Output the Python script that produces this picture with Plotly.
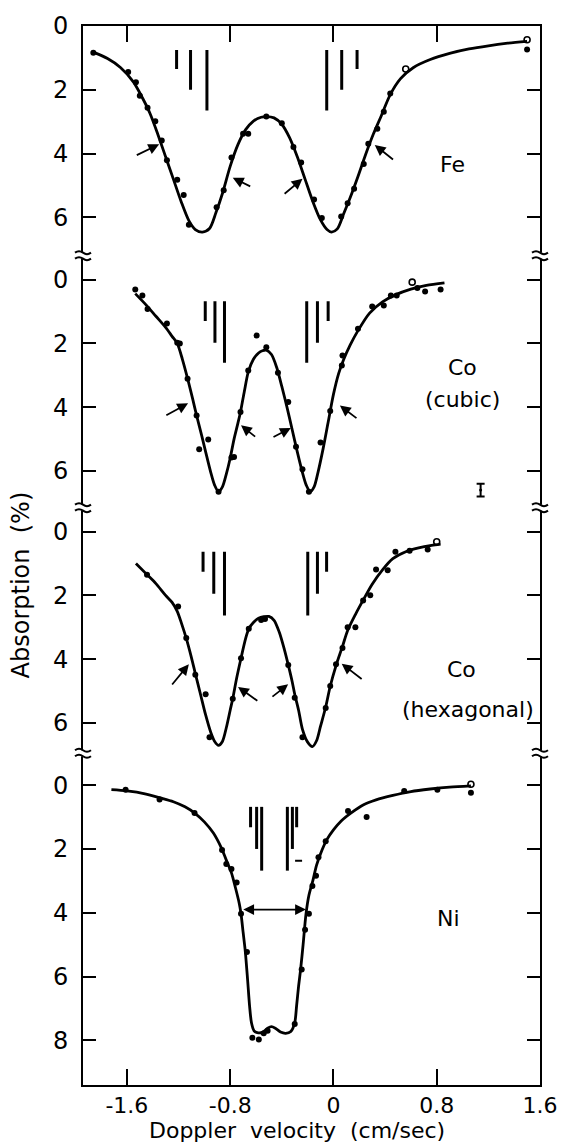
import plotly.graph_objects as go

# ---------------- data ----------------
X_RANGE = [-1.94, 1.6]
X_TICKS = [-1.6, -0.8, 0, 0.8, 1.6]
X_TICKTEXT = ["-1.6", "-0.8", "0", "0.8", "1.6"]

# panel y ranges (absorption %)
FE_RANGE = [0.0, 7.2]
CUB_RANGE = [-0.75, 7.15]
HEX_RANGE = [-0.75, 6.95]
NI_RANGE = [-1.0, 9.4]

# ---- Fe ----
fe_fit_x = [-1.86, -1.75, -1.65, -1.55, -1.48, -1.42, -1.36, -1.30, -1.24, -1.18, -1.12, -1.07, -1.015,
            -0.96, -0.91, -0.86, -0.80, -0.74, -0.68, -0.62, -0.56, -0.52, -0.46, -0.40, -0.34, -0.28,
            -0.22, -0.16, -0.10, -0.05, -0.014, 0.03, 0.08, 0.13, 0.19, 0.25, 0.31, 0.37, 0.44, 0.52,
            0.62, 0.75, 0.90, 1.05, 1.20, 1.35, 1.50]
fe_fit_y = [0.82, 1.02, 1.30, 1.75, 2.25, 2.75, 3.40, 4.10, 4.80, 5.50, 6.10, 6.38, 6.46,
            6.35, 5.85, 5.25, 4.40, 3.72, 3.25, 2.98, 2.86, 2.84, 2.88, 3.08, 3.50, 4.10,
            4.80, 5.50, 6.08, 6.38, 6.46, 6.36, 5.88, 5.38, 4.72, 4.02, 3.38, 2.82, 2.15, 1.65,
            1.30, 1.05, 0.86, 0.72, 0.62, 0.54, 0.48]
fe_dot_x = [-1.86, -1.59, -1.53, -1.50, -1.44, -1.38, -1.33, -1.29, -1.21, -1.16, -1.12, -0.905, -0.85,
            -0.79, -0.70, -0.66, -0.52, -0.40, -0.31, -0.25, -0.15, -0.09, 0.06, 0.11, 0.16, 0.235,
            0.27, 0.34, 0.39, 0.44, 1.50]
fe_dot_y = [0.84, 1.44, 1.76, 2.19, 2.56, 2.99, 3.59, 4.21, 4.82, 5.30, 6.23, 5.68, 5.15,
            4.12, 3.38, 3.38, 2.84, 3.05, 3.79, 4.28, 5.44, 6.02, 5.97, 5.56, 5.10, 4.33,
            3.69, 3.22, 2.69, 2.12, 0.74]
fe_open_x = [0.56, 1.50]
fe_open_y = [1.35, 0.43]
fe_stick_x = [-1.215, -1.107, -0.98, -0.052, 0.064, 0.183]
fe_stick_top = [0.75, 0.75, 0.75, 0.75, 0.75, 0.75]
fe_stick_end = [1.35, 2.0, 2.65, 2.65, 2.0, 1.35]
fe_arrow_tail_x = [-1.535, -0.633, -0.39, 0.473]
fe_arrow_tail_y = [4.07, 5.05, 5.30, 4.22]
fe_arrow_head_x = [-1.35, -0.78, -0.24, 0.32]
fe_arrow_head_y = [3.71, 4.76, 4.79, 3.73]

# ---- Co (cubic) ----
cub_fit_x = [-1.535, -1.45, -1.375, -1.30, -1.25, -1.21, -1.17, -1.13, -1.09, -1.06, -1.02, -0.99, -0.95,
             -0.92, -0.89, -0.86, -0.83, -0.80, -0.77, -0.74, -0.72, -0.69, -0.66, -0.62, -0.58, -0.55,
             -0.52, -0.48, -0.44, -0.40, -0.36, -0.32, -0.28, -0.24, -0.21, -0.18, -0.15, -0.12, -0.08,
             -0.04, 0.0, 0.04, 0.08, 0.13, 0.19, 0.28, 0.38, 0.48, 0.60, 0.72, 0.86]
cub_fit_y = [0.44, 0.80, 1.15, 1.50, 1.78, 2.0, 2.5, 3.1, 3.75, 4.26, 4.9, 5.4, 6.05,
             6.45, 6.65, 6.5, 6.1, 5.6, 5.0, 4.5, 4.15, 3.5, 2.9, 2.5, 2.3, 2.23,
             2.21, 2.35, 2.75, 3.35, 4.0, 4.7, 5.4, 6.05, 6.45, 6.65, 6.5, 6.05, 5.3,
             4.45, 3.6, 2.95, 2.5, 2.05, 1.6, 1.05, 0.70, 0.48, 0.30, 0.18, 0.10]
cub_dot_x = [-1.535, -1.48, -1.44, -1.29, -1.21, -1.19, -1.13, -1.06, -0.97, -1.04, -0.89, -0.79, -0.77,
             -0.72, -0.66, -0.595, -0.52, -0.43, -0.35, -0.29, -0.24, -0.19, -0.10, -0.025, 0.065,
             0.07, 0.19, 0.30, 0.39, 0.445, 0.49, 0.65, 0.71, 0.83]
cub_dot_y = [0.31, 0.50, 0.92, 1.38, 1.98, 2.0, 3.11, 4.26, 5.01, 5.32, 6.65, 5.58, 5.56,
             4.15, 2.85, 1.75, 2.12, 2.92, 3.84, 5.24, 5.95, 6.65, 5.11, 4.12, 2.69,
             2.38, 1.54, 0.84, 0.81, 0.50, 0.50, 0.26, 0.37, 0.31]
cub_open_x = [0.61]
cub_open_y = [0.08]
cub_stick_x = [-0.993, -0.918, -0.844, -0.207, -0.124, -0.041]
cub_stick_top = [0.68, 0.68, 0.68, 0.68, 0.68, 0.68]
cub_stick_end = [1.3, 1.98, 2.61, 2.61, 1.98, 1.3]
cub_arrow_tail_x = [-1.306, -0.595, -0.476, 0.19]
cub_arrow_tail_y = [4.28, 4.96, 4.96, 4.38]
cub_arrow_head_x = [-1.126, -0.716, -0.33, 0.05]
cub_arrow_head_y = [3.88, 4.57, 4.65, 3.95]
err_x = [1.14]
err_y = [6.6]
err_half = [0.2]

# ---- Co (hexagonal) ----
hex_fit_x = [-1.53, -1.444, -1.375, -1.30, -1.25, -1.21, -1.175, -1.14, -1.10, -1.07, -1.03, -0.99, -0.95,
             -0.92, -0.89, -0.86, -0.83, -0.80, -0.78, -0.75, -0.716, -0.68, -0.656, -0.62, -0.58, -0.54,
             -0.50, -0.46, -0.42, -0.38, -0.35, -0.32, -0.30, -0.27, -0.24, -0.20, -0.163, -0.13, -0.10,
             -0.06, -0.025, 0.02, 0.07, 0.11, 0.17, 0.23, 0.30, 0.38, 0.46, 0.56, 0.66, 0.76, 0.83]
hex_fit_y = [1.0, 1.35, 1.63, 2.0, 2.22, 2.5, 2.9, 3.35, 3.95, 4.45, 5.1, 5.75, 6.3,
             6.58, 6.7, 6.58, 6.15, 5.6, 5.24, 4.6, 3.97, 3.35, 3.05, 2.85, 2.72, 2.67,
             2.66, 2.78, 3.15, 3.7, 4.18, 4.7, 5.1, 5.6, 6.2, 6.6, 6.74, 6.55, 6.1,
             5.5, 4.85, 4.2, 3.6, 3.1, 2.6, 2.15, 1.65, 1.2, 0.85, 0.63, 0.51, 0.43, 0.39]
hex_dot_x = [-1.444, -1.203, -1.14, -1.07, -0.99, -0.96, -0.78, -0.716, -0.656, -0.56, -0.53, -0.35,
             -0.30, -0.24, -0.06, -0.025, 0.02, 0.07, 0.11, 0.17, 0.23, 0.285, 0.33, 0.42, 0.48,
             0.59, 0.73]
hex_dot_y = [1.35, 2.35, 3.34, 4.49, 5.1, 6.45, 5.24, 3.97, 3.05, 2.77, 2.74, 4.18,
             5.21, 6.45, 5.53, 4.84, 4.16, 3.65, 3.0, 3.0, 2.16, 2.0, 1.19, 1.21, 0.63,
             0.60, 0.56]
hex_open_x = [0.80]
hex_open_y = [0.32]
hex_stick_x = [-1.01, -0.927, -0.844, -0.199, -0.124, -0.053]
hex_stick_top = [0.63, 0.63, 0.63, 0.63, 0.63, 0.63]
hex_stick_end = [1.26, 1.95, 2.63, 2.63, 1.95, 1.26]
hex_arrow_tail_x = [-1.259, -0.578, -0.484, 0.23]
hex_arrow_tail_y = [4.84, 5.34, 5.21, 4.66]
hex_arrow_head_x = [-1.12, -0.739, -0.351, 0.064]
hex_arrow_head_y = [4.16, 4.87, 4.79, 4.14]

# ---- Ni ----
ni_fit_x = [-1.72, -1.60, -1.46, -1.34, -1.24, -1.15, -1.07, -1.00, -0.93, -0.87, -0.83, -0.79, -0.76,
            -0.73, -0.716, -0.70, -0.683, -0.665, -0.65, -0.635, -0.615, -0.59, -0.55, -0.51, -0.48,
            -0.45, -0.41, -0.37, -0.33, -0.30, -0.285, -0.27, -0.255, -0.235, -0.213, -0.19, -0.16,
            -0.13, -0.09, -0.05, 0.0, 0.06, 0.14, 0.23, 0.33, 0.46, 0.60, 0.75, 0.90, 1.065]
ni_fit_y = [0.14, 0.18, 0.27, 0.40, 0.52, 0.68, 0.89, 1.15, 1.50, 1.95, 2.35, 2.75, 3.2,
            3.7, 4.03, 4.6, 5.2, 6.1, 6.9, 7.45, 7.7, 7.76, 7.75, 7.62, 7.57,
            7.62, 7.74, 7.78, 7.72, 7.45, 6.9, 6.3, 5.8, 5.0, 4.05, 3.45, 3.0,
            2.5, 2.05, 1.7, 1.4, 1.12, 0.86, 0.62, 0.46, 0.32, 0.20, 0.12, 0.06, 0.02]
ni_dot_x = [-1.61, -1.347, -1.076, -0.863, -0.83, -0.79, -0.75, -0.716, -0.67, -0.628, -0.578, -0.54,
            -0.51, -0.30, -0.246, -0.22, -0.19, -0.163, -0.135, -0.116, -0.06, 0.113, 0.257, 0.548,
            0.805, 1.065]
ni_dot_y = [0.14, 0.45, 0.87, 2.03, 2.47, 2.63, 3.05, 4.03, 5.23, 7.92, 7.97, 7.78,
            7.7, 7.49, 5.78, 4.53, 4.03, 3.16, 2.84, 2.26, 1.76, 0.81, 1.0, 0.18,
            0.14, 0.24]
ni_open_x = [1.065]
ni_open_y = [-0.03]
ni_stick_x = [-0.642, -0.595, -0.556, -0.357, -0.318, -0.285]
ni_stick_top = [0.68, 0.68, 0.68, 0.68, 0.68, 0.68]
ni_stick_end = [1.32, 2.0, 2.68, 2.68, 2.0, 1.32]
ni_dash_x = [-0.27]
ni_dash_y = [2.37]
ni_width_x = [-0.71, -0.213]
ni_width_y = [3.9, 3.9]

# labels
panel_label_text = ["Fe", "Co", "(cubic)", "Co", "(hexagonal)", "Ni"]
panel_label_x = [0.92, 1.0, 1.0, 0.99, 1.04, 0.89]
panel_label_y = [4.33, 2.77, 3.76, 4.32, 5.58, 4.18]
panel_label_axis = ["y", "y2", "y2", "y3", "y3", "y4"]

# ---------------- figure ----------------
FONT = "DejaVu Sans"
BLACK = "black"
fig = go.Figure()

panels = [
    ("y", fe_fit_x, fe_fit_y, fe_dot_x, fe_dot_y, fe_open_x, fe_open_y, fe_stick_x, fe_stick_top, fe_stick_end,
     fe_arrow_tail_x, fe_arrow_tail_y, fe_arrow_head_x, fe_arrow_head_y),
    ("y2", cub_fit_x, cub_fit_y, cub_dot_x, cub_dot_y, cub_open_x, cub_open_y, cub_stick_x, cub_stick_top,
     cub_stick_end, cub_arrow_tail_x, cub_arrow_tail_y, cub_arrow_head_x, cub_arrow_head_y),
    ("y3", hex_fit_x, hex_fit_y, hex_dot_x, hex_dot_y, hex_open_x, hex_open_y, hex_stick_x, hex_stick_top,
     hex_stick_end, hex_arrow_tail_x, hex_arrow_tail_y, hex_arrow_head_x, hex_arrow_head_y),
    ("y4", ni_fit_x, ni_fit_y, ni_dot_x, ni_dot_y, ni_open_x, ni_open_y, ni_stick_x, ni_stick_top,
     ni_stick_end, [], [], [], []),
]

annotations = []
for (ya, fx, fy, dx, dy, ox, oy, sx, st, se, atx, aty, ahx, ahy) in panels:
    fig.add_trace(go.Scatter(x=fx, y=fy, mode="lines", line=dict(color=BLACK, width=2.8, shape="spline",
                                                                   smoothing=0.8),
                             xaxis="x", yaxis=ya, showlegend=False, hoverinfo="skip"))
    fig.add_trace(go.Scatter(x=dx, y=dy, mode="markers", marker=dict(color=BLACK, size=6),
                             xaxis="x", yaxis=ya, showlegend=False))
    fig.add_trace(go.Scatter(x=ox, y=oy, mode="markers",
                             marker=dict(color=BLACK, size=6, symbol="circle-open", line=dict(width=1.6)),
                             xaxis="x", yaxis=ya, showlegend=False))
    lx, ly = [], []
    for xv, t, e in zip(sx, st, se):
        lx += [xv, xv, None]
        ly += [t, e, None]
    fig.add_trace(go.Scatter(x=lx, y=ly, mode="lines", line=dict(color=BLACK, width=3),
                             xaxis="x", yaxis=ya, showlegend=False, hoverinfo="skip"))
    for tx, ty, hx, hy in zip(atx, aty, ahx, ahy):
        annotations.append(dict(x=hx, y=hy, ax=tx, ay=ty, xref="x", yref=ya, axref="x", ayref=ya,
                                text="", showarrow=True, arrowhead=2, arrowsize=1.2, arrowwidth=1.8,
                                arrowcolor=BLACK, standoff=0))

# error bar (Co cubic)
fig.add_trace(go.Scatter(x=err_x, y=err_y, mode="markers", marker=dict(color=BLACK, size=3),
                         error_y=dict(type="data", array=err_half, color=BLACK, thickness=2, width=4),
                         xaxis="x", yaxis="y2", showlegend=False))
# small dash in Ni panel
fig.add_trace(go.Scatter(x=ni_dash_x, y=ni_dash_y, mode="markers",
                         marker=dict(symbol="line-ew", size=5, line=dict(color=BLACK, width=2)),
                         xaxis="x", yaxis="y4", showlegend=False))
# Ni width double arrow
annotations.append(dict(x=ni_width_x[1], y=ni_width_y[1], ax=ni_width_x[0], ay=ni_width_y[0],
                        xref="x", yref="y4", axref="x", ayref="y4", text="", showarrow=True,
                        arrowhead=2, arrowside="end+start", arrowsize=1.2, arrowwidth=1.8,
                        arrowcolor=BLACK, standoff=0, startstandoff=0))
# dummy trace for top x axis
fig.add_trace(go.Scatter(x=[None], y=[None], xaxis="x2", yaxis="y", showlegend=False))

for t, x, y, ya in zip(panel_label_text, panel_label_x, panel_label_y, panel_label_axis):
    annotations.append(dict(x=x, y=y, xref="x", yref=ya, text=t, showarrow=False,
                            font=dict(family=FONT, size=22, color=BLACK)))

# axis titles
annotations.append(dict(x=-0.135, y=0.472, xref="paper", yref="paper", text="Absorption  (%)",
                        textangle=-90, showarrow=False, xanchor="center", yanchor="middle",
                        font=dict(family=FONT, size=24, color=BLACK)))
annotations.append(dict(x=0.469, y=-0.0425, xref="paper", yref="paper", text="Doppler  velocity  (cm/sec)",
                        showarrow=False, xanchor="center", yanchor="middle",
                        font=dict(family=FONT, size=22, color=BLACK)))

# domains from ranges
ranges = [FE_RANGE, CUB_RANGE, HEX_RANGE, NI_RANGE]
spans = [r[1] - r[0] for r in ranges]
total = sum(spans)
domains = []
top = 1.0
for s in spans:
    bottom = top - s / total
    domains.append([max(bottom, 0.0), top])
    top = bottom
domains[-1][0] = 0.0

yaxis_common = dict(ticks="inside", ticklen=13, tickwidth=2, tickcolor=BLACK, showline=True, linewidth=2,
                    linecolor=BLACK, mirror="ticks", showgrid=False, zeroline=False, anchor="x",
                    tickfont=dict(family=FONT, size=24, color=BLACK), ticklabelstandoff=8)
ytick_sets = [[0, 2, 4, 6], [0, 2, 4, 6], [0, 2, 4, 6], [0, 2, 4, 6, 8]]
layout_axes = {}
names = ["yaxis", "yaxis2", "yaxis3", "yaxis4"]
for name, r, d, tv in zip(names, ranges, domains, ytick_sets):
    layout_axes[name] = dict(domain=d, range=[r[1], r[0]], tickvals=tv, ticktext=[str(v) for v in tv],
                             **yaxis_common)

xaxis_common = dict(range=X_RANGE, tickvals=X_TICKS, ticks="inside", ticklen=16, tickwidth=2,
                    tickcolor=BLACK, showline=True, linewidth=2, linecolor=BLACK, showgrid=False,
                    zeroline=False)
layout_axes["xaxis"] = dict(anchor="y4", ticktext=X_TICKTEXT, domain=[0, 1],
                            tickfont=dict(family=FONT, size=22, color=BLACK), **xaxis_common)
layout_axes["xaxis2"] = dict(anchor="y", overlaying="x", side="top", showticklabels=False, **xaxis_common)

# axis break marks on both spines at each panel boundary
shapes = []
for d in domains[:-1]:
    yb = d[0]
    for xa in [0, 1]:
        shapes.append(dict(type="rect", xref="paper", yref="paper", xsizemode="pixel", ysizemode="pixel",
                           xanchor=xa, yanchor=yb, x0=-3, x1=3, y0=-3, y1=3,
                           fillcolor="white", line=dict(width=0), layer="above"))
        for dy in [3, -3]:
            shapes.append(dict(type="path", xref="paper", yref="paper", xsizemode="pixel",
                               ysizemode="pixel", xanchor=xa, yanchor=yb,
                               path=f"M-8,{dy} Q-4,{dy + 3} 0,{dy} T8,{dy}",
                               line=dict(color=BLACK, width=2), layer="above"))

fig.update_layout(width=570, height=1148, margin=dict(l=83, r=22, t=15, b=63),
                  plot_bgcolor="white", paper_bgcolor="white", showlegend=False,
                  annotations=annotations, shapes=shapes, font=dict(family=FONT, color=BLACK),
                  **layout_axes)

fig.write_html("out.html")
